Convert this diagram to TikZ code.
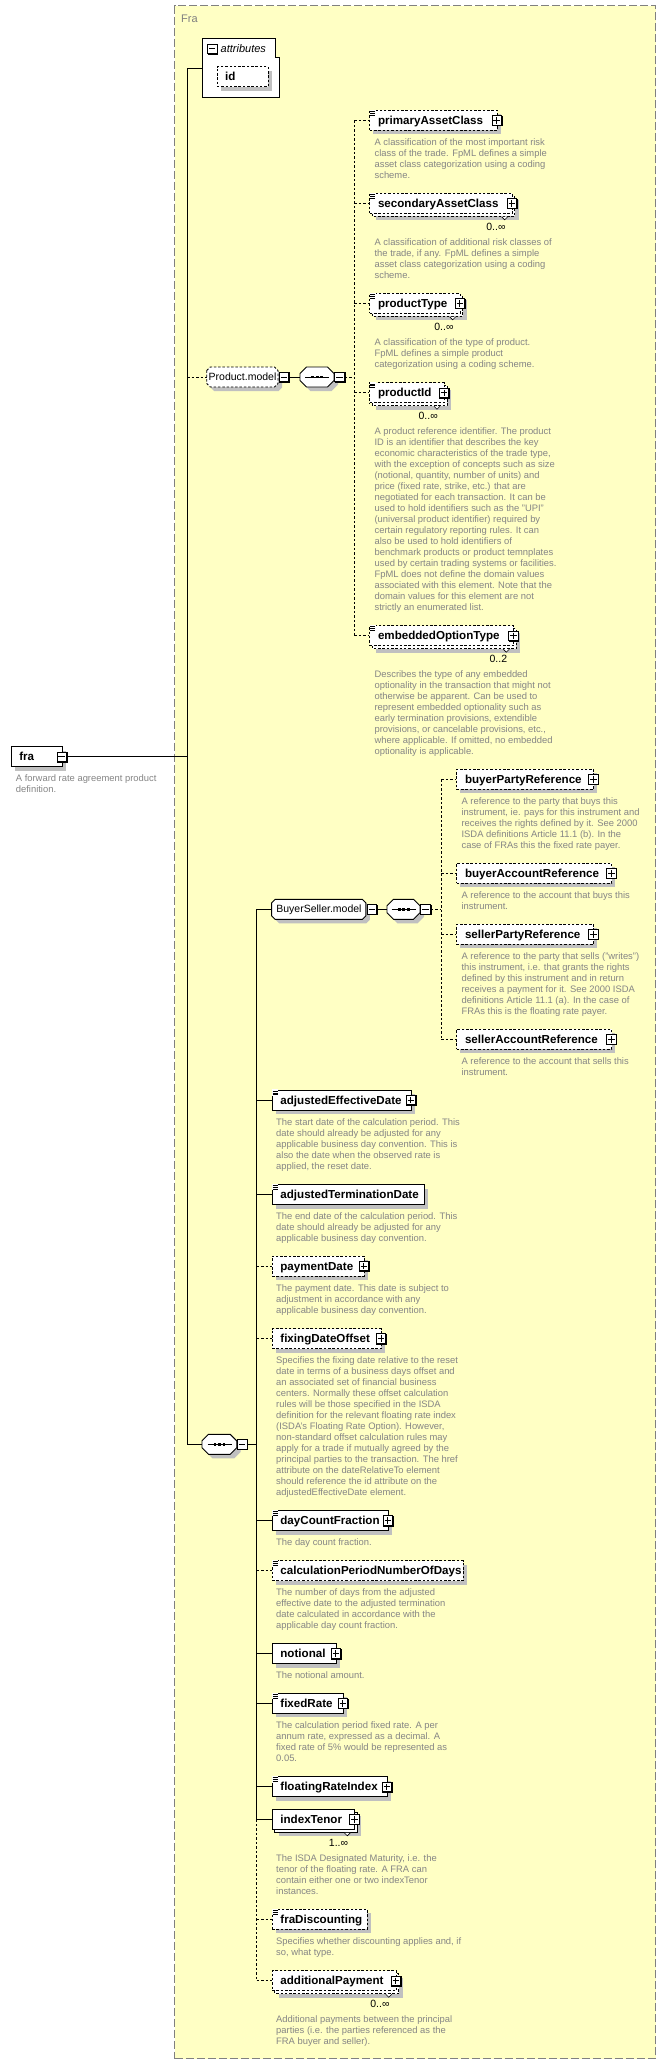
\documentclass[tikz,border=0pt]{standalone}
\usepackage{fontspec}
\setmainfont{Liberation Sans}
\usetikzlibrary{calc}
\definecolor{frameyel}{HTML}{FFFFC4}
\definecolor{shadowc}{HTML}{C0C0C0}
\definecolor{doccol}{HTML}{858585}
\definecolor{framegray}{HTML}{808080}
\tikzset{
 conn/.style={line width=0.8pt},
 dconn/.style={line width=0.8pt, dash pattern=on 2.5pt off 2pt},
 solidb/.style={draw=black, line width=0.9pt},
 dashb/.style={draw=black, line width=0.9pt, dash pattern=on 2.5pt off 1.8pt},
 boxn/.style={fill=white, minimum height=20pt, inner sep=0pt, anchor=west},
 namet/.style={font=\fontsize{11.6}{12}\selectfont\bfseries, inner sep=0pt, anchor=base west},
 doct/.style={font=\fontsize{9.4}{11}\selectfont, text=doccol, inner sep=0pt, anchor=north west, align=left},
 mult/.style={font=\fontsize{10.5}{12}\selectfont, inner sep=0pt, anchor=east},
}
\newcommand{\pmicon}[4]{%
  \fill[black] (#2-4.6,#3-4.6) rectangle (#2+6.0,#3+6.0);
  \node[draw=black, fill=white, line width=0.8pt, minimum size=9.4pt, inner sep=0pt] (#1) at (#2,#3) {};
  \draw[line width=0.9pt] ($(#1.center)+(-3.2,0)$) -- ($(#1.center)+(3.2,0)$);
  \ifnum#4=1\relax \draw[line width=0.9pt] ($(#1.center)+(0,-3.2)$) -- ($(#1.center)+(0,3.2)$);\fi
}
\newcommand{\docicon}[2]{%
  \fill[white] (#1+0.5,#2-0.8) rectangle (#1+6.5,#2+5.8);
  \draw[line width=0.6pt] (#1+1,#2+1) -- ++(5,0) (#1+1,#2+2.8) -- ++(5,0) (#1+1,#2+4.6) -- ++(5,0);
}
% name, x, yc, w, text, border style, doc icon, plus icon, multiplicity
\newcommand{\elem}[9]{%
  \def\tmpm{#9}%
  \ifx\tmpm\empty
    \fill[shadowc] (#2+4,#3-6) rectangle (#2+#4+4,#3+14);
  \else
    \fill[shadowc] (#2+7,#3-3) rectangle (#2+#4+7,#3+17);
    \path[#6, fill=white] (#2+3,#3-7) rectangle (#2+#4+3,#3+13);
    \draw[line width=0.6pt, fill=white] (#2+#4-10,#3+13.5) -- (#2+#4-7,#3+16.5) -- (#2+#4-4,#3+13.5);
    \node[mult] (#1-m) at (#2+#4-6,#3+23.5) {#9};
  \fi
  \node[boxn, #6, minimum width=#4pt] (#1) at (#2,#3) {};
  \ifnum#7=1\relax \docicon{#2}{#3-10}\fi
  \node[namet] (#1-t) at (#2+8.5,#3+4) {#5};
  \ifnum#8=1\relax \pmicon{#1-p}{#2+#4}{#3}{1}\fi
}
\newcommand{\octpath}[5]{(#1,#2-#4/2+#5) -- (#1+#5,#2-#4/2) -- (#1+#3-#5,#2-#4/2) -- (#1+#3,#2-#4/2+#5) -- (#1+#3,#2+#4/2-#5) -- (#1+#3-#5,#2+#4/2) -- (#1+#5,#2+#4/2) -- (#1,#2+#4/2-#5) -- cycle}
\newcommand{\seqnode}[4]{%
  \fill[shadowc] \octpath{#2+4}{#3+4}{#4}{20}{6.5};
  \draw[solidb, fill=white] \octpath{#2}{#3}{#4}{20}{6.5};
  \node[inner sep=0pt, minimum width=#4pt, minimum height=20pt, anchor=west] (#1) at (#2,#3) {};
  \draw[line width=0.8pt] ($(#1.center)+(-12,0)$) -- ($(#1.center)+(12,0)$);
  \foreach \dx in {-4.5,0,4.5} \fill ($(#1.center)+(\dx-1.3,-1.3)$) rectangle ++(2.6,2.6);
  \pmicon{#1-p}{#2+#4+5.5}{#3}{0}
}
\newcommand{\modelnode}[6]{%
  \fill[shadowc] \octpath{#2+4}{#3+4}{#4}{20}{3.5};
  \draw[#6, fill=white] \octpath{#2}{#3}{#4}{20}{3.5};
  \node[inner sep=0pt, minimum width=#4pt, minimum height=20pt, anchor=west, font=\fontsize{10.5}{12}\selectfont] (#1) at (#2,#3) {#5};
  \pmicon{#1-p}{#2+#4+5.8}{#3}{0}
}
\newcommand{\doc}[4]{\node[doct] (#1) at (#2,#3-4.7) {\strut #4};}
\begin{document}
\begin{tikzpicture}[x=1pt,y=-1pt]
\useasboundingbox (0,0) rectangle (666,2064);
\fill[white] (0,0) rectangle (666,2064);
\node[draw=framegray, fill=frameyel, line width=1pt, dash pattern=on 8pt off 3pt, minimum width=480.6pt, minimum height=2053pt, inner sep=0pt, anchor=north west] (frame) at (174.4,5.3) {};
\node[anchor=west, inner sep=0pt, text=framegray, font=\fontsize{11}{12}\selectfont] (frame-t) at (181,19) {Fra};

% bus coordinates
\coordinate (busA) at (187.2,0);
\coordinate (busB) at (354.4,0);
\coordinate (busC) at (256.7,0);
\coordinate (busD) at (441.4,0);

% attributes
\draw[solidb, fill=white] (202.5,38) -- (275,38) -- (275,57) -- (279.3,57) -- (279.3,97.3) -- (202.5,97.3) -- cycle;
\coordinate (attrs-in) at (202.5,68.3);
\pmicon{attr-p}{212.2}{48.9}{0}
\node[anchor=base west, inner sep=0pt, font=\fontsize{11}{12}\selectfont\itshape] (attrs-t) at (220.5,52.8) {attributes};
\elem{idb}{216.5}{76.7}{51.3}{id}{dashb}{0}{0}{}

% fra
\elem{fra}{10.6}{756.7}{51}{fra}{solidb}{0}{0}{}
\pmicon{fra-p}{61.6}{756.7}{0}
\doc{fra-d}{15.7}{778.7}{A forward rate agreement product\\definition.}

% Product.model
\modelnode{pm}{206.7}{377}{71.3}{Product.model}{dashb}
\seqnode{seq1}{300}{377}{34}

\elem{pac}{369.3}{120.3}{127.3}{primaryAssetClass}{dashb}{1}{1}{}
\doc{pac-d}{374.4}{142.7}{A classification of the most important risk\\class of the trade. FpML defines a simple\\asset class categorization using a coding\\scheme.}
\elem{sac}{369.3}{203.3}{142.4}{secondaryAssetClass}{dashb}{1}{1}{0..∞}
\doc{sac-d}{374.4}{242.7}{A classification of additional risk classes of\\the trade, if any. FpML defines a simple\\asset class categorization using a coding\\scheme.}
\elem{pt}{369.3}{303.3}{90.4}{productType}{dashb}{1}{1}{0..∞}
\doc{pt-d}{374.4}{342.7}{A classification of the type of product.\\FpML defines a simple product\\categorization using a coding scheme.}
\elem{pid}{369.3}{392.8}{74.7}{productId}{dashb}{1}{1}{0..∞}
\doc{pid-d}{374.4}{431.7}{A product reference identifier. The product\\ID is an identifier that describes the key\\economic characteristics of the trade type,\\with the exception of concepts such as size\\(notional, quantity, number of units) and\\price (fixed rate, strike, etc.) that are\\negotiated for each transaction. It can be\\used to hold identifiers such as the "UPI"\\(universal product identifier) required by\\certain regulatory reporting rules. It can\\also be used to hold identifiers of\\benchmark products or product temnplates\\used by certain trading systems or facilities.\\FpML does not define the domain values\\associated with this element. Note that the\\domain values for this element are not\\strictly an enumerated list.}
\elem{eot}{369.3}{635.7}{144}{embeddedOptionType}{dashb}{1}{1}{0..2}
\doc{eot-d}{374.4}{674.7}{Describes the type of any embedded\\optionality in the transaction that might not\\otherwise be apparent. Can be used to\\represent embedded optionality such as\\early termination provisions, extendible\\provisions, or cancelable provisions, etc.,\\where applicable. If omitted, no embedded\\optionality is applicable.}

% BuyerSeller.model
\modelnode{bsm}{271.6}{909.3}{94.3}{BuyerSeller.model}{solidb}
\seqnode{seq3}{387}{909.3}{33}
\elem{bpr}{456.3}{779.3}{137}{buyerPartyReference}{dashb}{0}{1}{}
\doc{bpr-d}{461.4}{801.7}{A reference to the party that buys this\\instrument, ie. pays for this instrument and\\receives the rights defined by it. See 2000\\ISDA definitions Article 11.1 (b). In the\\case of FRAs this the fixed rate payer.}
\elem{bar}{456.3}{873.3}{155}{buyerAccountReference}{dashb}{0}{1}{}
\doc{bar-d}{461.4}{895.7}{A reference to the account that buys this\\instrument.}
\elem{spr}{456.3}{934.3}{137}{sellerPartyReference}{dashb}{0}{1}{}
\doc{spr-d}{461.4}{956.7}{A reference to the party that sells ("writes")\\this instrument, i.e. that grants the rights\\defined by this instrument and in return\\receives a payment for it. See 2000 ISDA\\definitions Article 11.1 (a). In the case of\\FRAs this is the floating rate payer.}
\elem{sar}{456.3}{1039.3}{155}{sellerAccountReference}{dashb}{0}{1}{}
\doc{sar-d}{461.4}{1061.7}{A reference to the account that sells this\\instrument.}

% main sequence
\seqnode{seq2}{202}{1444.3}{34.7}
\elem{aed}{271.7}{1100}{139.2}{adjustedEffectiveDate}{solidb}{1}{1}{}
\doc{aed-d}{276}{1122.7}{The start date of the calculation period. This\\date should already be adjusted for any\\applicable business day convention. This is\\also the date when the observed rate is\\applied, the reset date.}
\elem{atd}{271.7}{1194.5}{152.6}{adjustedTerminationDate}{solidb}{1}{0}{}
\doc{atd-d}{276}{1216.7}{The end date of the calculation period. This\\date should already be adjusted for any\\applicable business day convention.}
\elem{pd}{271.7}{1266}{92}{paymentDate}{dashb}{0}{1}{}
\doc{pd-d}{276}{1288.7}{The payment date. This date is subject to\\adjustment in accordance with any\\applicable business day convention.}
\elem{fdo}{271.7}{1338.5}{109.3}{fixingDateOffset}{dashb}{0}{1}{}
\doc{fdo-d}{276}{1360.7}{Specifies the fixing date relative to the reset\\date in terms of a business days offset and\\an associated set of financial business\\centers. Normally these offset calculation\\rules will be those specified in the ISDA\\definition for the relevant floating rate index\\(ISDA's Floating Rate Option). However,\\non-standard offset calculation rules may\\apply for a trade if mutually agreed by the\\principal parties to the transaction. The href\\attribute on the dateRelativeTo element\\should reference the id attribute on the\\adjustedEffectiveDate element.}
\elem{dcf}{271.7}{1520.5}{116}{dayCountFraction}{solidb}{1}{1}{}
\doc{dcf-d}{276}{1542.7}{The day count fraction.}
\elem{cpnod}{271.7}{1570.7}{191}{calculationPeriodNumberOfDays}{dashb}{1}{0}{}
\doc{cpnod-d}{276}{1592.7}{The number of days from the adjusted\\effective date to the adjusted termination\\date calculated in accordance with the\\applicable day count fraction.}
\elem{notional}{271.7}{1653.5}{64}{notional}{solidb}{0}{1}{}
\doc{notional-d}{276}{1675.3}{The notional amount.}
\elem{fr}{271.7}{1703.3}{71}{fixedRate}{solidb}{1}{1}{}
\doc{fr-d}{276}{1725.7}{The calculation period fixed rate. A per\\annum rate, expressed as a decimal. A\\fixed rate of 5\% would be represented as\\0.05.}
\elem{fri}{271.7}{1786.7}{115}{floatingRateIndex}{solidb}{1}{1}{}
\elem{it}{271.7}{1819.3}{82.6}{indexTenor}{solidb}{0}{1}{1..∞}
\doc{it-d}{276}{1858.7}{The ISDA Designated Maturity, i.e. the\\tenor of the floating rate. A FRA can\\contain either one or two indexTenor\\instances.}
\elem{fd}{271.7}{1919.3}{95}{fraDiscounting}{dashb}{1}{0}{}
\doc{fd-d}{276}{1941.7}{Specifies whether discounting applies and, if\\so, what type.}
\elem{ap}{271.7}{1980.7}{124}{additionalPayment}{dashb}{0}{1}{0..∞}
\doc{ap-d}{276}{2019.3}{Additional payments between the principal\\parties (i.e. the parties referenced as the\\FRA buyer and seller).}

% connectors
\draw[conn] (fra-p.east) -- (fra-p.east -| busA);
\draw[conn] (busA |- attrs-in) -- (busA |- seq2.west);
\draw[conn] (busA |- attrs-in) -- (attrs-in);
\draw[dconn] (busA |- pm.west) -- (pm.west);
\draw[conn] (busA |- seq2.west) -- (seq2.west);
\draw[conn] (pm-p.east) -- (seq1.west);
\draw[dconn] (seq1-p.east) -- (seq1-p.east -| busB);
\draw[dconn] (busB |- pac.west) -- (busB |- eot.west);
\foreach \n in {pac,sac,pt,pid,eot} \draw[dconn] (busB |- \n.west) -- (\n.west);
\draw[conn] (seq2-p.east) -- (seq2-p.east -| busC);
\draw[conn] (busC |- bsm.west) -- (busC |- it.west);
\draw[dconn] (busC |- it.west) -- (busC |- ap.west);
\foreach \n in {bsm,aed,atd,dcf,notional,fr,fri,it} \draw[conn] (busC |- \n.west) -- (\n.west);
\foreach \n in {pd,fdo,cpnod,fd,ap} \draw[dconn] (busC |- \n.west) -- (\n.west);
\draw[conn] (bsm-p.east) -- (seq3.west);
\draw[dconn] (seq3-p.east) -- (seq3-p.east -| busD);
\draw[dconn] (busD |- bpr.west) -- (busD |- sar.west);
\foreach \n in {bpr,bar,spr,sar} \draw[dconn] (busD |- \n.west) -- (\n.west);
\end{tikzpicture}
\end{document}
